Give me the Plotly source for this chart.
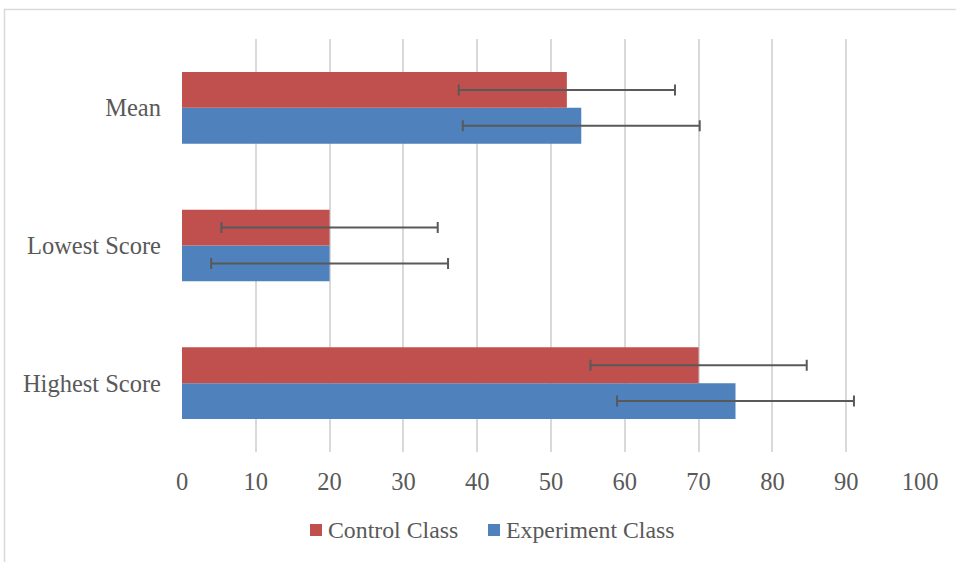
import plotly.graph_objects as go

categories = ["Highest Score", "Lowest Score", "Mean"]
series_names = ["Control Class", "Experiment Class"]
series_colors = ["#C0504D", "#4F81BD"]
control_values = [70, 20, 52.15]
experiment_values = [75, 20, 54.1]
control_error = [14.65, 14.65, 14.65]
experiment_error = [16.05, 16.05, 16.05]
x_ticks = [0, 10, 20, 30, 40, 50, 60, 70, 80, 90, 100]

FONT = "Liberation Serif, Times New Roman, serif"
TXT = "#595959"
FS = 24.5

W, H = 956, 562
L, R, T, B = 182, 36, 39, 110
PW, PH = W - L - R, H - T - B


def px_x(px):
    return (px - L) / PW


def px_y(py):
    return (H - B - py) / PH


fig = go.Figure()
fig.add_trace(go.Bar(
    y=categories, x=experiment_values, orientation="h", name=series_names[1],
    marker=dict(color=series_colors[1], line=dict(width=0)),
    error_x=dict(type="data", array=experiment_error, color="#595959", thickness=2, width=5.5),
))
fig.add_trace(go.Bar(
    y=categories, x=control_values, orientation="h", name=series_names[0],
    marker=dict(color=series_colors[0], line=dict(width=0)),
    error_x=dict(type="data", array=control_error, color="#595959", thickness=2, width=5.5),
))

shapes = [dict(type="rect", xref="paper", yref="paper",
               x0=px_x(4.5), x1=px_x(990), y0=px_y(600), y1=px_y(9.5),
               line=dict(color="#D9D9D9", width=1.5), fillcolor="rgba(0,0,0,0)", layer="below")]
annotations = []
# manual legend (matching reference spacing)
legend_sq_left = [310, 488]
for name, color, sx in zip(series_names, series_colors, legend_sq_left):
    shapes.append(dict(type="rect", xref="paper", yref="paper",
                       x0=px_x(sx), x1=px_x(sx + 12), y0=px_y(536), y1=px_y(524),
                       line=dict(width=0), fillcolor=color))
    annotations.append(dict(text=name, xref="paper", yref="paper", x=px_x(sx + 16), y=px_y(530),
                            xanchor="left", yanchor="middle", showarrow=False,
                            font=dict(family=FONT, size=23.8, color=TXT)))

fig.update_layout(
    width=W, height=H,
    margin=dict(l=L, r=R, t=T, b=B),
    paper_bgcolor="white", plot_bgcolor="white",
    barmode="group", bargap=0.48, bargroupgap=0,
    font=dict(family=FONT, size=FS, color=TXT),
    showlegend=False,
    xaxis=dict(range=[0, 100], tickvals=x_ticks, showgrid=True, gridcolor="#D9D9D9", gridwidth=1.5,
               zeroline=False, showline=False, ticks="", ticklabelstandoff=12,
               tickfont=dict(family=FONT, size=FS, color=TXT)),
    yaxis=dict(categoryorder="array", categoryarray=categories, showgrid=False, zeroline=False,
               showline=False, ticks="", ticklabelstandoff=20,
               tickfont=dict(family=FONT, size=FS, color=TXT)),
    shapes=shapes,
    annotations=annotations,
)

fig.write_html("out.html", config={"displayModeBar": False},
               post_script="document.body.style.margin='0';document.body.style.overflow='hidden';")
